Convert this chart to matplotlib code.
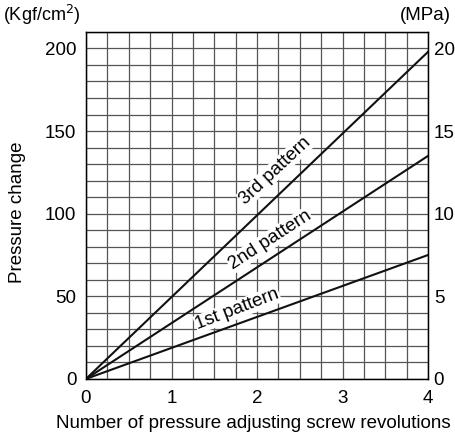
import matplotlib
matplotlib.use('Agg')
import matplotlib.pyplot as plt
import numpy as np

plt.rcParams['font.family'] = ['Liberation Sans', 'DejaVu Sans']

# 데이터
revs = [0, 4]
pattern1 = [0, 75]
pattern2 = [0, 135]
pattern3 = [0, 198]
labels = ['1st pattern', '2nd pattern', '3rd pattern']
label_pos = [(1.77, 42, 21), (2.15, 84, 33), (2.21, 126, 43)]

fs = 13.5
fig = plt.figure(figsize=(4.55, 4.37), dpi=100)
ax = fig.add_axes([0.189, 0.133, 0.752, 0.794])

ax.set_xlim(0, 4)
ax.set_ylim(0, 210)
ax.set_xticks(np.arange(0, 4.01, 0.25), minor=True)
ax.set_yticks(np.arange(0, 211, 10), minor=True)
ax.set_xticks([0, 1, 2, 3, 4])
ax.set_yticks([0, 50, 100, 150, 200])
ax.grid(True, which='both', color='#555555', linewidth=0.9)
ax.tick_params(which='both', length=0, labelsize=fs)
ax.tick_params(axis='x', pad=8)
ax.tick_params(axis='y', pad=7)
for s in ax.spines.values():
    s.set_color('black')
    s.set_linewidth(1)

for ys in [pattern1, pattern2, pattern3]:
    ax.plot(revs, ys, color='#111111', linewidth=1.5, zorder=3)

for txt, (x, y, rot) in zip(labels, label_pos):
    ax.text(x, y, txt, rotation=rot, ha='center', va='center', fontsize=13.5,
            rotation_mode='anchor', zorder=4,
            bbox=dict(facecolor='white', edgecolor='none', pad=0.5))

ax.set_xlabel('Number of pressure adjusting screw revolutions', fontsize=fs)
ax.xaxis.set_label_coords(0.49, -0.105)
ax.set_ylabel('Pressure change', fontsize=fs)
ax.yaxis.set_label_coords(-0.175, 0.48)

ax2 = ax.twinx()
ax2.set_ylim(0, 21)
ax2.set_yticks([0, 5, 10, 15, 20])
ax2.tick_params(length=0, labelsize=fs, pad=4)

fig.text(0.006, 0.965, '(Kgf/cm$^2$)', fontsize=13, va='center', ha='left')
fig.text(0.878, 0.965, '(MPa)', fontsize=fs, va='center', ha='left')

fig.savefig('out.png', dpi=100)
